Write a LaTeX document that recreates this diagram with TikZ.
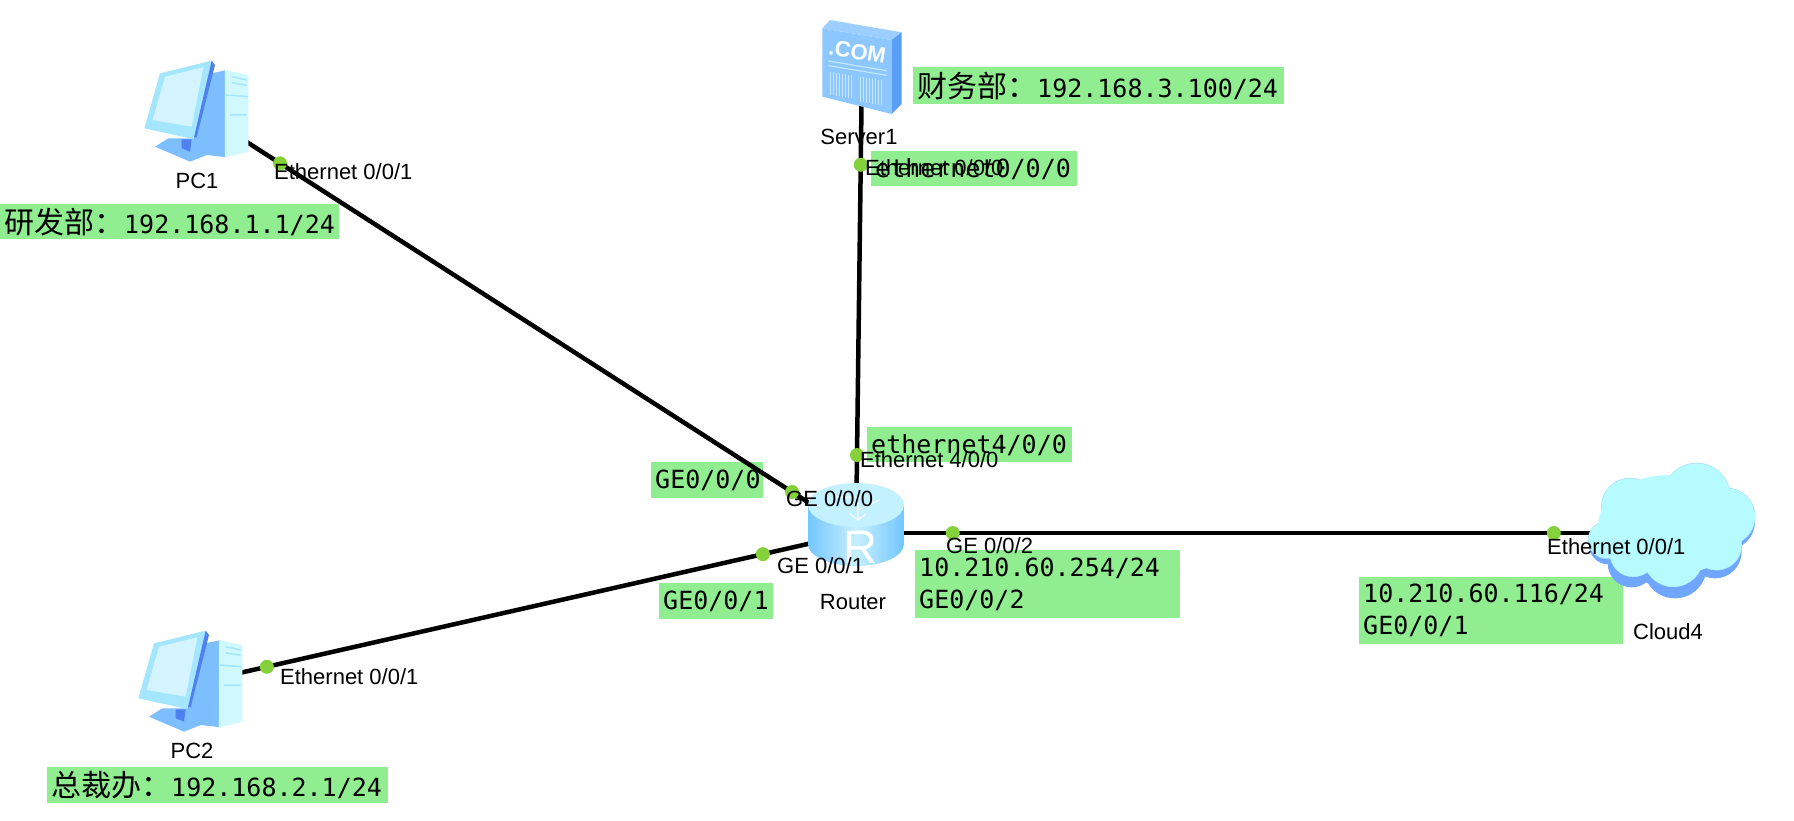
\documentclass[tikz,border=0pt]{standalone}
\usepackage{fontspec}
\setmainfont{Liberation Sans}
\newfontfamily\cjkfont{Noto Sans CJK SC}
\newfontfamily\monofont{DejaVu Sans Mono}
\definecolor{boxgreen}{HTML}{90EE90}
\definecolor{portgreen}{HTML}{84D13C}
\definecolor{pcpale}{HTML}{CFF9FF}
\definecolor{pcmid}{HTML}{7DBEFF}
\definecolor{pcdark}{HTML}{4F80F0}
\definecolor{pcrim}{HTML}{A5E6FF}
\definecolor{pcscreen}{HTML}{D4F5FF}
\definecolor{srvfront}{HTML}{8CC8FF}
\definecolor{srvtop}{HTML}{9CCFFF}
\definecolor{srvside}{HTML}{5A9EF8}
\definecolor{srvline}{HTML}{C4E6FF}
\definecolor{rtedge}{HTML}{74C6FF}
\definecolor{rtmid}{HTML}{C6F0FF}
\definecolor{rttop}{HTML}{C4F1FF}
\definecolor{cloudfill}{HTML}{B6FBFF}
\definecolor{cloudhalo}{HTML}{9FD8FF}
\definecolor{cloudshade}{HTML}{6FA6FF}
\newcommand\labfont{\fontsize{22}{26}\selectfont}
\newcommand\monosize{\monofont\fontsize{25}{32}\selectfont}
\newcommand\cjksize{\cjkfont\fontsize{30}{32}\selectfont}
\tikzset{
  device/.style={inner sep=0pt,minimum size=0pt,outer sep=0pt},
  link/.style={draw=black,line width=4.5pt},
  port/.style={circle,fill=portgreen,inner sep=0pt,minimum size=14pt},
  devlabel/.style={font=\labfont,inner sep=0pt,text=black},
  portlabel/.style={font=\labfont,inner sep=0pt,anchor=west,text=black},
  greenbox/.style={fill=boxgreen,anchor=north west,inner xsep=4pt,inner ysep=0pt,align=left,font=\monosize,text=black},
}
\newcommand\pcicon[2]{%
\begin{scope}[shift={(#1,#2)},x=.3333pt,y=-.3333pt]
  \fill[pcmid] (165,350) -- (205,325) -- (290,325) -- (320,375) -- (270,395) -- cycle;
  \fill[pcdark] (245,328) -- (275,328) -- (270,365) -- (245,355) -- cycle;
  \fill[pcmid] (335,130) -- (380,120) -- (380,382) -- (320,375) -- (275,345) -- cycle;
  \fill[pcpale] (375,120) -- (445,135) -- (445,365) -- (375,382) -- cycle;
  \draw[pcrim,line width=1.5pt] (395,140) -- (440,150) (395,158) -- (440,166) (378,195) -- (445,200) (390,255) -- (440,255);
  \fill[pcrim] (133,295) -- (180,130) -- (335,92) -- (285,322) -- (270,325) -- cycle;
  \fill[pcscreen] (158,270) -- (195,140) -- (310,112) -- (275,290) -- cycle;
  \fill[pcdark] (335,92) -- (345,105) -- (290,322) -- (282,322) -- cycle;
\end{scope}}
\begin{document}
\begin{tikzpicture}[x=1pt,y=-1pt]
\useasboundingbox (0,0) rectangle (1794,820);
\fill[white] (0,0) rectangle (1794,820);
% green annotation boxes
\node[greenbox,text width=331pt,minimum height=35pt] (lab1) at (0,204) {{\cjksize 研发部：}192.168.1.1/24};
\node[greenbox,text width=363pt,minimum height=37pt] (lab2) at (913,67) {{\cjksize 财务部：}192.168.3.100/24};
\node[greenbox,text width=198pt,minimum height=35pt] (lab3) at (871,151) {ethernet0/0/0};
\node[greenbox,text width=197pt,minimum height=35pt] (lab4) at (867,427) {ethernet4/0/0};
\node[greenbox,text width=104pt,minimum height=36pt] (lab5) at (651,462) {GE0/0/0};
\node[greenbox,text width=106pt,minimum height=36pt] (lab6) at (659,583) {GE0/0/1};
\node[greenbox,text width=257pt,minimum height=68pt] (lab7) at (915,550) {10.210.60.254/24\\GE0/0/2};
\node[greenbox,text width=256pt,minimum height=67pt] (lab8) at (1359,577) {10.210.60.116/24\\GE0/0/1};
\node[greenbox,text width=333pt,minimum height=36pt] (lab9) at (47,767) {{\cjksize 总裁办：}192.168.2.1/24};
% device centres
\node[device] (pc1) at (197,110) {};
\node[device] (pc2) at (191,684) {};
\node[device] (server) at (862,66) {};
\node[device] (router) at (856,533) {};
\node[device] (cloud) at (1676,533) {};
% connectors
\draw[link] (pc1.center) -- node[port,pos=.126] (p1a) {} node[port,pos=.903] (p1b) {} (router.center);
\draw[link] (server.center) -- node[port,pos=.2115] (p2a) {} node[port,pos=.833] (p2b) {} (router.center);
\draw[link] (pc2.center) -- node[port,pos=.114] (p3a) {} node[port,pos=.860] (p3b) {} (router.center);
\draw[link] (router.center) -- node[port,pos=.118] (p4a) {} node[port,pos=.851] (p4b) {} (cloud.center);
% PC icons
\pcicon{100}{30}
\pcicon{94}{600}
% server icon
\begin{scope}[shift={(780,0)},x=.3333pt,y=-.3333pt]
  \fill[srvfront] (127,85) -- (335,120) -- (335,342) -- (127,290) -- cycle;
  \fill[srvtop] (127,85) -- (150,60) -- (365,97) -- (335,120) -- cycle;
  \fill[srvside] (335,120) -- (365,97) -- (365,312) -- (335,342) -- cycle;
  \draw[srvline,line width=1.2pt] (145,183) -- (320,212) (145,197) -- (320,226);
  \foreach \i in {0,1,...,7} {\draw[srvline,line width=.8pt] ({152+\i*9},{215+\i*1.5}) -- ({152+\i*9},{285+\i*1.5});
    \draw[srvline,line width=.8pt] ({242+\i*9},{230+\i*1.5}) -- ({242+\i*9},{305+\i*1.5});}
  \node[inner sep=0pt,text=white,rotate=-9,font=\bfseries\fontsize{22}{24}\selectfont] (comtext) at (232,155) {.COM};
\end{scope}
% router icon
\shade[left color=rtedge,right color=rtedge,middle color=rtmid] (808,505) -- (808,544) arc[start angle=180,end angle=0,x radius=48,y radius=22] -- (904,505) -- cycle;
\fill[rttop] (856,505) ellipse[x radius=48,y radius=22];
\draw[white,line width=1.2pt,opacity=.85] (835,497) -- (860,497) (880,500) -- (858,510) (858,503) -- (858,520) (850,514) -- (858,520) -- (866,514);
\node[inner sep=0pt,text=white,font=\fontsize{47}{50}\selectfont] (rmark) at (860,547) {R};
% cloud icon
\begin{scope}[shift={(1340,450)},x=.3333pt,y=-.3333pt]
  \fill[cloudshade] (875,340) circle[radius=72] (1005,350) circle[radius=95] (1125,305) circle[radius=80] (1160,215) circle[radius=85] (805,285) circle[radius=58] (980,260) circle[radius=150];
  \fill[cloudfill,draw=cloudhalo,line width=1pt] (870,170) circle[radius=85] (1070,140) circle[radius=100] (1160,200) circle[radius=85] (1130,285) circle[radius=75] (1000,320) circle[radius=90] (880,310) circle[radius=70] (800,270) circle[radius=55];
  \fill[cloudfill] (870,170) circle[radius=85] (1070,140) circle[radius=100] (1160,200) circle[radius=85] (1130,285) circle[radius=75] (1000,320) circle[radius=90] (880,310) circle[radius=70] (800,270) circle[radius=55] (990,225) ellipse[x radius=215,y radius=150];
\end{scope}
% device labels
\node[devlabel] (pc1name) at (197,181) {PC1};
\node[devlabel] (pc2name) at (192,751) {PC2};
\node[devlabel] (servername) at (859,137) {Server1};
\node[devlabel] (routername) at (853,602) {Router};
\node[devlabel,anchor=west] (cloudname) at (1633,632) {Cloud4};
% port labels
\node[portlabel] (l1) at (274,172) {Ethernet 0/0/1};
\node[portlabel] (l2) at (865,168) {Ethernet 0/0/0};
\node[portlabel] (l3) at (860,460) {Ethernet 4/0/0};
\node[portlabel] (l4) at (786,499) {GE 0/0/0};
\node[portlabel] (l5) at (777,566) {GE 0/0/1};
\node[portlabel] (l6) at (946,546) {GE 0/0/2};
\node[portlabel] (l7) at (1547,547) {Ethernet 0/0/1};
\node[portlabel] (l8) at (280,677) {Ethernet 0/0/1};
\end{tikzpicture}
\end{document}
